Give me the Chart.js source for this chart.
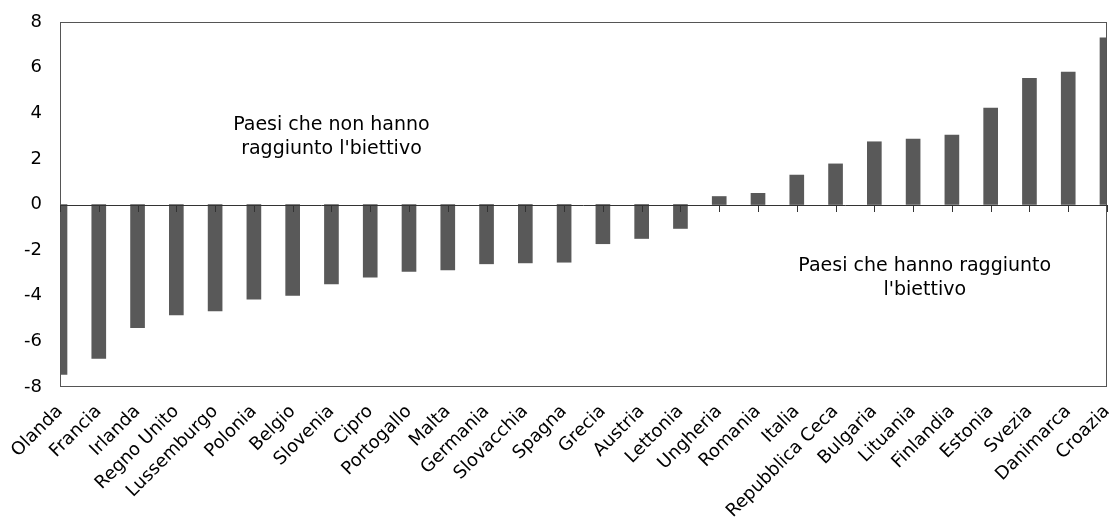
<!DOCTYPE html>
<html>
<head>
<meta charset="utf-8">
<script src="https://cdn.jsdelivr.net/npm/chart.js@4"></script>
<style>
  html, body { margin: 0; padding: 0; background: #fff; }
</style>
</head>
<body>
<canvas id="myChart" width="1114" height="522"></canvas>
<script>
// Dati del grafico
var paesi = ['Olanda', 'Francia', 'Irlanda', 'Regno Unito', 'Lussemburgo', 'Polonia', 'Belgio',
  'Slovenia', 'Cipro', 'Portogallo', 'Malta', 'Germania', 'Slovacchia', 'Spagna', 'Grecia',
  'Austria', 'Lettonia', 'Ungheria', 'Romania', 'Italia', 'Repubblica Ceca', 'Bulgaria',
  'Lituania', 'Finlandia', 'Estonia', 'Svezia', 'Danimarca', 'Croazia'];
var valori = [-7.45, -6.75, -5.4, -4.84, -4.66, -4.15, -3.99, -3.48, -3.19, -2.93, -2.87, -2.6,
  -2.56, -2.53, -1.72, -1.49, -1.05, 0.35, 0.49, 1.29, 1.78, 2.75, 2.87, 3.04, 4.23, 5.53, 5.81, 7.31];
var yTicks = [-8, -6, -4, -2, 0, 2, 4, 6, 8];

// Testi dentro il grafico: posizione espressa in valori degli assi
var note = [
  { righe: ['Paesi che non hanno', 'raggiunto l\'biettivo'], x: 7, y: 2.97 },
  { righe: ['Paesi che hanno raggiunto', 'l\'biettivo'], x: 22.3, y: -3.22 }
];

var FONT = 'DejaVu Sans';

// Riquadro, linea dello zero, tacche e note
var decorazioni = {
  id: 'decorazioni',
  afterDatasetsDraw: function(chart) {
    var ctx = chart.ctx;
    var a = chart.chartArea;
    var xs = chart.scales.x;
    var ys = chart.scales.y;
    var y0 = ys.getPixelForValue(0);
    ctx.save();
    ctx.strokeStyle = '#555555';
    ctx.lineWidth = 1;
    ctx.strokeRect(a.left + 0.5, a.top + 0.5, a.right - a.left - 1, a.bottom - a.top - 1);
    ctx.strokeStyle = '#333333';
    ctx.beginPath();
    ctx.moveTo(a.left, Math.round(y0) + 0.5);
    ctx.lineTo(a.right, Math.round(y0) + 0.5);
    for (var i = 0; i < paesi.length; i++) {
      var x = Math.round(xs.getPixelForTick(i)) + 0.5;
      ctx.moveTo(x, Math.round(y0));
      ctx.lineTo(x, Math.round(y0) + 7);
    }
    ctx.stroke();

    ctx.fillStyle = '#000';
    ctx.font = '19px "' + FONT + '"';
    ctx.textAlign = 'center';
    ctx.textBaseline = 'middle';
    note.forEach(function(n) {
      var cx = xs.getPixelForValue(n.x);
      var cy = ys.getPixelForValue(n.y);
      var h = 24;
      n.righe.forEach(function(r, k) {
        ctx.fillText(r, cx, cy + (k - (n.righe.length - 1) / 2) * h);
      });
    });
    ctx.restore();
  }
};

var ctx = document.getElementById('myChart').getContext('2d');
var myChart = new Chart(ctx, {
  type: 'bar',
  data: {
    labels: paesi,
    datasets: [{
      data: valori,
      backgroundColor: '#595959',
      barThickness: 14
    }]
  },
  options: {
    responsive: false,
    animation: false,
    layout: { padding: { top: 22, right: 7, left: 0, bottom: 0 } },
    plugins: { legend: { display: false }, tooltip: { enabled: false } },
    scales: {
      x: {
        offset: false,
        grid: { display: false, drawTicks: false },
        border: { display: false },
        ticks: {
          autoSkip: false,
          minRotation: 45,
          maxRotation: 45,
          padding: 14,
          color: '#000',
          font: { family: FONT, size: 18 }
        },
        afterFit: function(s) {
          s.height = 135;
          s.paddingLeft = 0;
          s.paddingRight = 0;
        }
      },
      y: {
        min: -8,
        max: 8,
        afterBuildTicks: function(s) { s.ticks = yTicks.map(function(v) { return { value: v }; }); },
        grid: { display: false, drawTicks: false },
        border: { display: false },
        ticks: {
          padding: 18,
          color: '#000',
          font: { family: FONT, size: 18 }
        },
        afterFit: function(s) {
          s.width = 60;
          s.paddingTop = 0;
          s.paddingBottom = 0;
        }
      }
    }
  },
  plugins: [decorazioni]
});
</script>
</body>
</html>
